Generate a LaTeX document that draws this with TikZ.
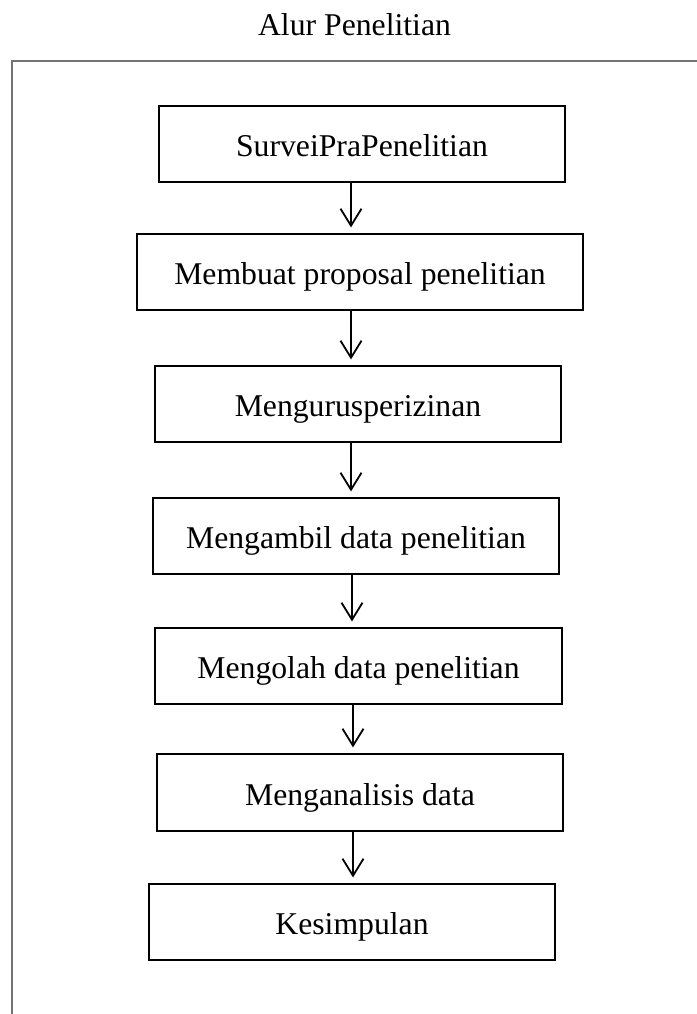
\documentclass[tikz,border=0pt]{standalone}
\usepackage{fontspec}
\setmainfont{Liberation Serif}
\usetikzlibrary{arrows.meta}
\begin{document}
\begin{tikzpicture}[x=0.5pt,y=-0.5pt,
  txt/.style={font=\fontsize{15.85}{19}\selectfont},
  box/.style={txt, draw=black, line width=0.6pt, inner sep=0pt,
    minimum height=38pt, text height=12.5pt, text depth=0pt},
  flow/.style={-{Straight Barb[length=8.5pt,width=10.5pt]}, line width=0.9pt, shorten >=3pt},
  frame/.style={draw=black!55, line width=1pt}]
\useasboundingbox (0,0) rectangle (697,1014);
% frame (open at right and bottom)
\coordinate (fbl) at (12,1014);
\coordinate (ftl) at (12,61);
\coordinate (ftr) at (697,61);
\draw[frame] (fbl) -- (ftl) -- (ftr);
% title
\node[txt, anchor=base, inner sep=0pt] (title) at (354.5,35) {Alur Penelitian};
% boxes
\node[box, minimum width=203pt] (b1) at (362,144) {SurveiPraPenelitian};
\node[box, minimum width=223pt] (b2) at (360,272) {Membuat proposal penelitian};
\node[box, minimum width=203pt] (b3) at (358,404) {Mengurusperizinan};
\node[box, minimum width=203pt] (b4) at (356,536) {Mengambil data penelitian};
\node[box, minimum width=203.5pt] (b5) at (358.5,666) {Mengolah data penelitian};
\node[box, minimum width=203pt, minimum height=38.5pt] (b6) at (360,792.5) {Menganalisis data};
\node[box, minimum width=203pt] (b7) at (352,922) {Kesimpulan};
% arrow x positions
\coordinate (a1) at (351,0);
\coordinate (a2) at (351,0);
\coordinate (a3) at (351,0);
\coordinate (a4) at (352,0);
\coordinate (a5) at (353,0);
\coordinate (a6) at (353,0);
\draw[flow] (b1.south -| a1) -- (b2.north -| a1);
\draw[flow] (b2.south -| a2) -- (b3.north -| a2);
\draw[flow] (b3.south -| a3) -- (b4.north -| a3);
\draw[flow] (b4.south -| a4) -- (b5.north -| a4);
\draw[flow] (b5.south -| a5) -- (b6.north -| a5);
\draw[flow] (b6.south -| a6) -- (b7.north -| a6);
\end{tikzpicture}
\end{document}
